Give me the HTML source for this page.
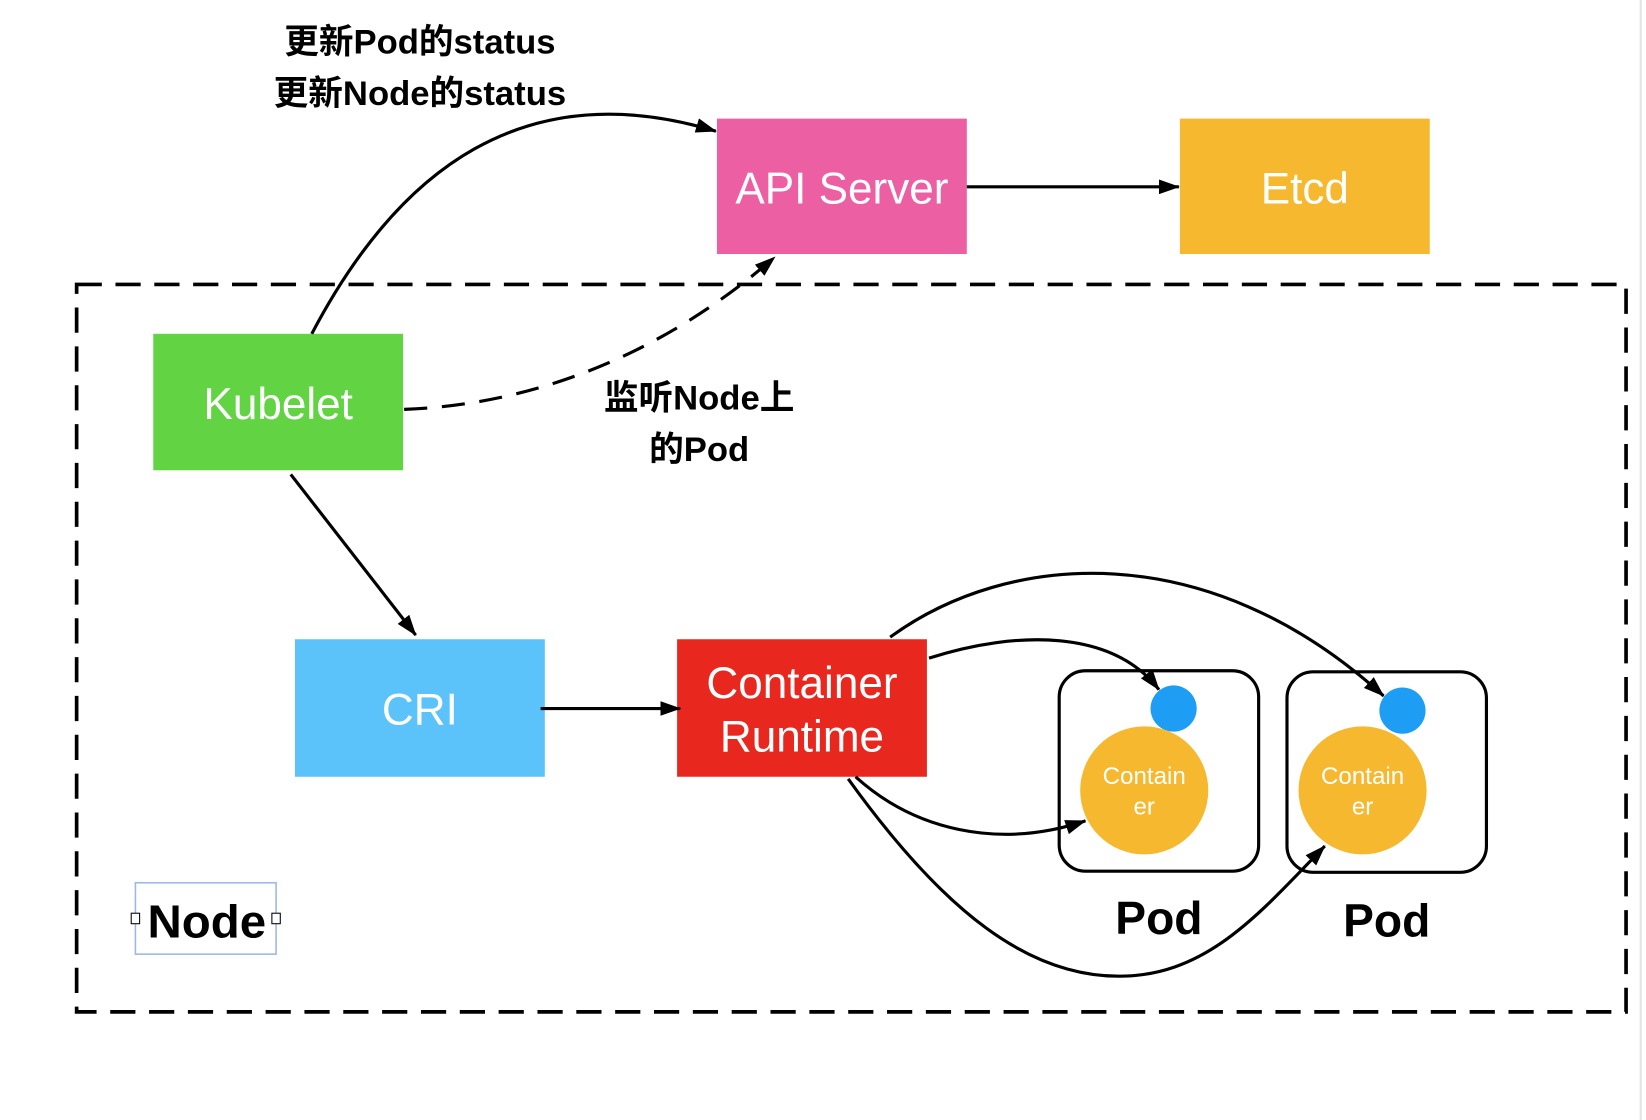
<!DOCTYPE html>
<html><head><meta charset="utf-8"><style>
html,body{margin:0;padding:0;background:#fff;}
svg{display:block;}
text{font-family:"Liberation Sans","Noto Sans CJK SC",sans-serif;}
</style></head><body>
<svg width="1646" height="1120" viewBox="0 0 1568 1067" preserveAspectRatio="none" xmlns="http://www.w3.org/2000/svg">
<defs>
<marker id="a" viewBox="0 0 20 14" refX="19" refY="7" markerWidth="20" markerHeight="14" markerUnits="userSpaceOnUse" orient="auto">
<path d="M0,0 L20,7 L0,14 z" fill="#000"/>
</marker>
</defs>
<rect x="0" y="0" width="1568" height="1067" fill="#fff"/>
<line x1="1563" y1="0" x2="1563" y2="1067" stroke="#e4e4e4" stroke-width="2"/>
<rect x="73" y="271" width="1476" height="693" fill="none" stroke="#000" stroke-width="3.5" stroke-dasharray="24 13"/>
<rect x="683" y="113" width="238" height="129" fill="#EC5FA3"/>
<text x="802" y="194" font-size="42" fill="#fff" text-anchor="middle">API Server</text>
<rect x="1124" y="113" width="238" height="129" fill="#F5B82E"/>
<text x="1243" y="194" font-size="42" fill="#fff" text-anchor="middle">Etcd</text>
<rect x="146" y="318" width="238" height="130" fill="#62D444"/>
<text x="265" y="399" font-size="42" fill="#fff" text-anchor="middle">Kubelet</text>
<rect x="281" y="609" width="238" height="131" fill="#5BC2FA"/>
<text x="400" y="690" font-size="42" fill="#fff" text-anchor="middle">CRI</text>
<rect x="645" y="609" width="238" height="131" fill="#E8281F"/>
<text x="764" y="665" font-size="42" fill="#fff" text-anchor="middle">Container</text>
<text x="764" y="716" font-size="42" fill="#fff" text-anchor="middle">Runtime</text>
<rect x="1009" y="639" width="190" height="191" rx="25" fill="none" stroke="#000" stroke-width="3"/>
<rect x="1226" y="640" width="190" height="191" rx="25" fill="none" stroke="#000" stroke-width="3"/>
<circle cx="1118" cy="675" r="22" fill="#1E9DF5"/>
<circle cx="1336" cy="677" r="22" fill="#1E9DF5"/>
<circle cx="1090" cy="753" r="61" fill="#F5B82E"/>
<circle cx="1298" cy="753" r="61" fill="#F5B82E"/>
<text x="1090" y="747" font-size="23" fill="#fff" text-anchor="middle">Contain</text>
<text x="1090" y="776" font-size="23" fill="#fff" text-anchor="middle">er</text>
<text x="1298" y="747" font-size="23" fill="#fff" text-anchor="middle">Contain</text>
<text x="1298" y="776" font-size="23" fill="#fff" text-anchor="middle">er</text>
<text x="1104" y="890" font-size="44" font-weight="bold" text-anchor="middle">Pod</text>
<text x="1321" y="892" font-size="44" font-weight="bold" text-anchor="middle">Pod</text>
<rect x="129" y="841" width="134" height="68" fill="none" stroke="#9DB8E8" stroke-width="1.5"/>
<text x="197" y="893" font-size="44" font-weight="bold" text-anchor="middle" textLength="113" lengthAdjust="spacingAndGlyphs">Node</text>
<rect x="125" y="870" width="8" height="10" fill="#fff" stroke="#000" stroke-width="1"/>
<rect x="259" y="870" width="8" height="10" fill="#fff" stroke="#000" stroke-width="1"/>
<text x="400" y="51" font-size="33" font-weight="bold" text-anchor="middle">更新Pod的status</text>
<text x="400" y="100" font-size="33" font-weight="bold" text-anchor="middle">更新Node的status</text>
<text x="666" y="390" font-size="33" font-weight="bold" text-anchor="middle">监听Node上</text>
<text x="666" y="439" font-size="33" font-weight="bold" text-anchor="middle">的Pod</text>
<g fill="none" stroke="#000" stroke-width="3" marker-end="url(#a)">
<path d="M297,318 C380,160 500,70 682,125"/>
<path d="M385,390 C520,385 640,330 738,245" stroke-dasharray="22 14"/>
<line x1="921" y1="178" x2="1123" y2="178"/>
<line x1="277" y1="452" x2="396" y2="605"/>
<line x1="515" y1="675" x2="648" y2="675"/>
<path d="M848,607 C960,525 1150,510 1318,663"/>
<path d="M885,627 C970,600 1060,600 1104,657"/>
<path d="M815,740 C870,790 950,810 1034,782"/>
<path d="M808,742 C900,870 980,930 1066,930 C1150,930 1200,870 1262,806"/>
</g>
</svg>
</body></html>
